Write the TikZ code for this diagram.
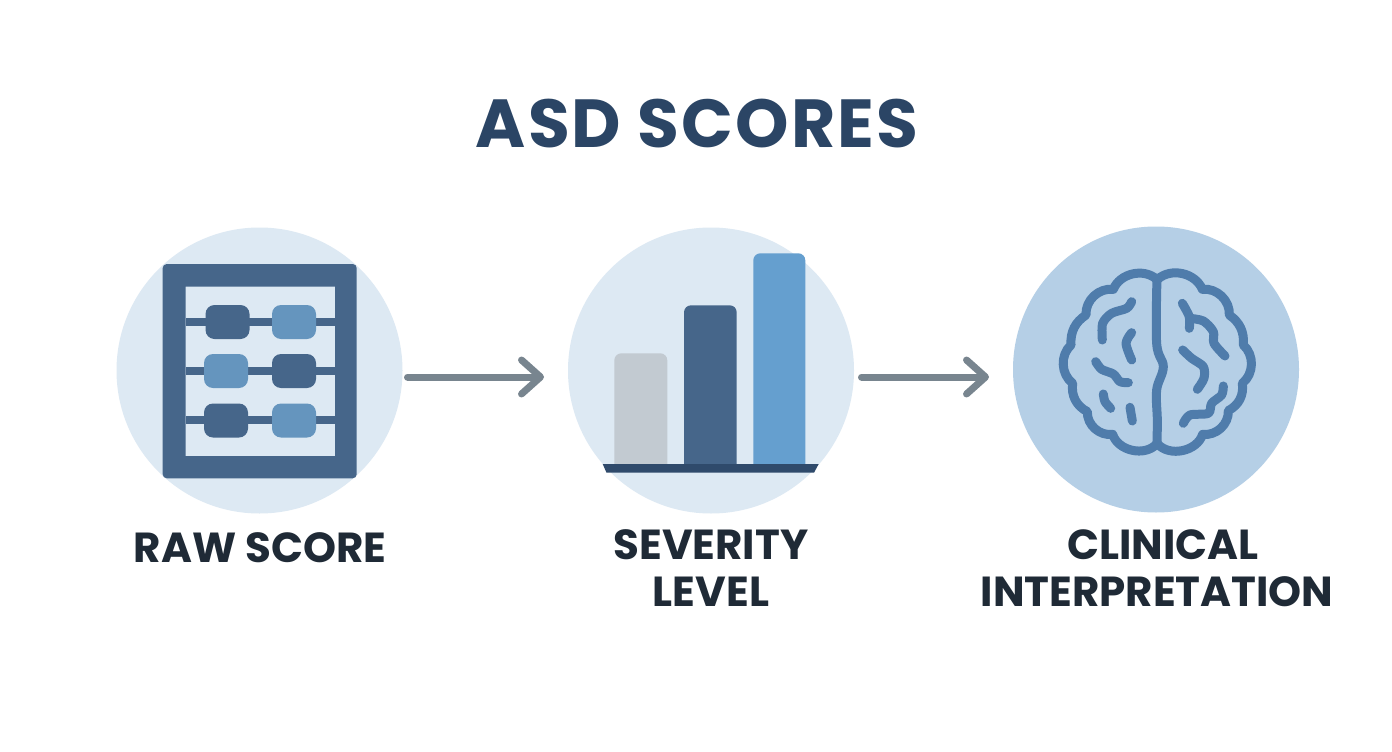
\documentclass[tikz,border=0pt]{standalone}
\usepackage{fontspec}
\setmainfont{Poppins}
\newfontfamily\titlefont[LetterSpace=3]{Poppins}
\usetikzlibrary{arrows.meta}

\definecolor{titleblue}{HTML}{2B4565}
\definecolor{labelink}{HTML}{1F2A36}
\definecolor{paleblue}{HTML}{DDE9F3}
\definecolor{midblue}{HTML}{B5CFE6}
\definecolor{darkblue}{HTML}{46668A}
\definecolor{beadblue}{HTML}{6595BE}
\definecolor{barblue}{HTML}{659FCF}
\definecolor{bargray}{HTML}{C2CAD1}
\definecolor{baseblue}{HTML}{2F4A6B}
\definecolor{brainblue}{HTML}{4F7CAB}
\definecolor{arrowgray}{HTML}{78858F}

\begin{document}
\begin{tikzpicture}[x=1pt,y=-1pt,
  disc/.style={circle, inner sep=0pt, minimum size=286pt},
  bead/.style={rounded corners=9pt, inner sep=0pt, minimum width=44pt, minimum height=34pt},
  steplabel/.style={font=\fontsize{42}{47}\selectfont\bfseries, text=labelink, align=center},
  flow/.style={line width=7pt, arrowgray, line cap=round, -{Straight Barb[round,length=19pt,width=34pt]}},
  fold/.style={line width=9pt, brainblue, line cap=round, line join=round}]

\useasboundingbox (0,0) rectangle (1392,752);
\fill[white] (0,0) rectangle (1392,752);

\node[font=\titlefont\fontsize{68}{70}\selectfont\bfseries, text=titleblue] (title) at (697,124) {ASD SCORES};

\node[disc, fill=paleblue] (rawdisc) at (259.5,370.5) {};
\node[disc, fill=paleblue] (severitydisc) at (711,370.5) {};
\node[disc, fill=midblue] (clinicaldisc) at (1156,369.5) {};

%abacus
\fill[darkblue, rounded corners=4pt, even odd rule] (162.7,264) rectangle (356.7,478.3) [sharp corners] (185.7,286.7) rectangle (335,456);
\fill[darkblue] (185.7,317.7) rectangle (335,326);
\fill[darkblue] (185.7,366.7) rectangle (335,375);
\fill[darkblue] (185.7,416) rectangle (335,424.3);
\node[bead, fill=darkblue] (beada) at (227.5,322) {};
\node[bead, fill=beadblue] (beadb) at (294,322) {};
\node[bead, fill=beadblue] (beadc) at (226,371) {};
\node[bead, fill=darkblue] (beadd) at (294,371) {};
\node[bead, fill=darkblue] (beade) at (226,420.5) {};
\node[bead, fill=beadblue] (beadf) at (294,420.5) {};

%bars
\fill[bargray] (614.3,464) [rounded corners=7pt] -- (614.3,353.3) -- (667.3,353.3) [sharp corners] -- (667.3,464) -- cycle;
\fill[darkblue] (684,464) [rounded corners=7pt] -- (684,305.3) -- (736.7,305.3) [sharp corners] -- (736.7,464) -- cycle;
\fill[barblue] (753.3,464) [rounded corners=7pt] -- (753.3,253.3) -- (805.3,253.3) [sharp corners] -- (805.3,464) -- cycle;
\fill[baseblue] (602.7,464) -- (818.7,464) -- (814,472.7) -- (606.5,472.7) -- cycle;

%brain
\begin{scope}[shift={(1000,220)},x=0.3333pt,y=-0.3333pt]
\draw[fold] (470,178) to[bend right=55] (340,208) to[bend right=50] (258,285) to[bend right=30] (213,375) to[bend right=50] (218,490) to[bend right=35] (262,575) to[bend right=50] (338,643) to[bend right=60] (470,672);
\draw[fold] (473,178) to[bend left=55] (607,208) to[bend left=50] (688,285) to[bend left=30] (730,375) to[bend left=50] (727,490) to[bend left=35] (685,572) to[bend left=50] (608,643) to[bend left=60] (473,672);
\draw[fold] plot[smooth, tension=0.6] coordinates {(471,175) (470,370) (490,440) (470,510) (472,600) (471,672)};
\draw[fold] plot[smooth] coordinates {(395,245) (380,265) (335,280) (308,310) (307,360)};
\draw[fold] plot[smooth] coordinates {(395,338) (378,370) (395,420)};
\draw[fold] plot[smooth] coordinates {(287,425) (305,448) (340,462) (360,485) (385,488)};
\draw[fold] plot[smooth] coordinates {(310,522) (315,545) (332,565)};
\draw[fold] (390,562) -- (397,603);
\draw[fold] plot[smooth] coordinates {(547,250) (568,290) (568,325)};
\draw[fold] plot[smooth] coordinates {(568,295) (610,303) (640,335) (642,370) (675,408)};
\draw[fold] plot[smooth] coordinates {(548,390) (575,415) (610,440) (612,475) (592,508)};
\draw[fold] plot[smooth] coordinates {(670,498) (665,525) (635,550) (625,580) (570,585) (550,610)};
\end{scope}

\coordinate (rawout) at (407.5,377);
\coordinate (severityin) at (544,377);
\coordinate (severityout) at (861.5,377);
\coordinate (clinicalin) at (989,377);
\draw[flow] (rawout) -- (severityin);
\draw[flow] (severityout) -- (clinicalin);

\node[steplabel] (rawlabel) at (260,548) {RAW SCORE};
\node[steplabel] (severitylabel) at (711,568) {SEVERITY\\LEVEL};
\node[steplabel] (clinicallabel) at (1157,568) {\hspace*{12pt}CLINICAL\\INTERPRETATION};

\end{tikzpicture}
\end{document}
